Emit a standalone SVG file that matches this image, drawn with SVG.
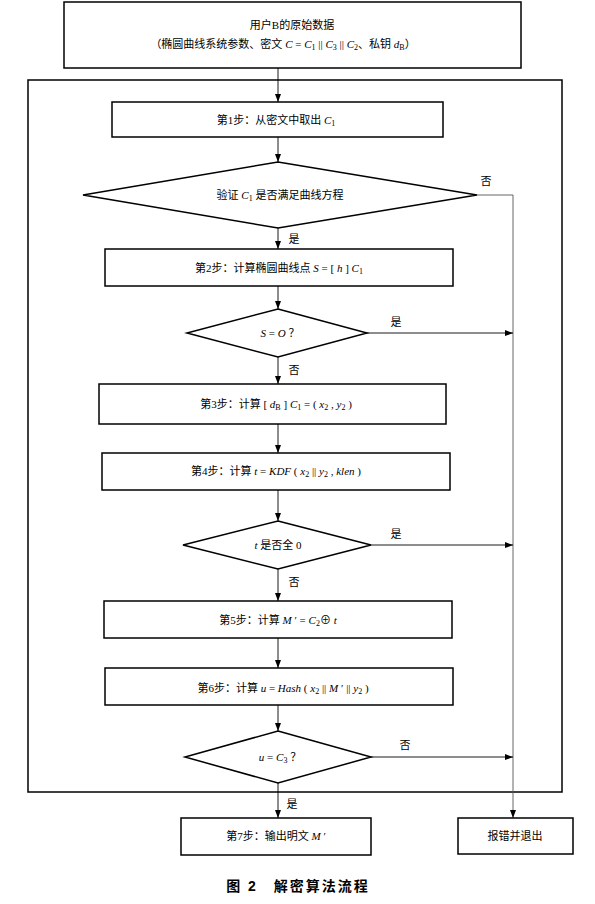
<svg xmlns="http://www.w3.org/2000/svg" width="595" height="904" viewBox="0 0 595 904">
<style>
.box{fill:#fff;stroke:#000;stroke-width:1.5}
.frame{fill:none;stroke:#000;stroke-width:1.5}
.ln{fill:none;stroke:#000;stroke-width:0.9}
.gl{fill:none;stroke:#555;stroke-width:0.9}
text{font-family:"Liberation Serif","Noto Sans CJK SC",serif;font-size:11px;fill:#000}
.c{text-anchor:middle}
.i{font-style:italic}
.s{font-size:8px}
.cap{font-family:"Liberation Sans","Noto Sans CJK SC",sans-serif;font-size:14px;font-weight:bold;letter-spacing:2px}
</style>
<defs>
<marker id="ah" markerWidth="8" markerHeight="6" refX="8" refY="3" orient="auto" markerUnits="userSpaceOnUse">
<path d="M0,0 L8,3 L0,6 Z" fill="#000"/>
</marker>
</defs>
<rect width="595" height="904" fill="#fff"/>
<rect class="frame" x="28" y="80" width="534" height="712"/>
<g id="connectors">
<line class="ln" x1="278" y1="68" x2="278" y2="102" marker-end="url(#ah)"/>
<line class="ln" x1="278" y1="137" x2="278" y2="162" marker-end="url(#ah)"/>
<line class="ln" x1="278" y1="228" x2="278" y2="249" marker-end="url(#ah)"/>
<line class="ln" x1="278" y1="286" x2="278" y2="309" marker-end="url(#ah)"/>
<line class="ln" x1="278" y1="357" x2="278" y2="384" marker-end="url(#ah)"/>
<line class="ln" x1="278" y1="424" x2="278" y2="453" marker-end="url(#ah)"/>
<line class="ln" x1="278" y1="490" x2="278" y2="521" marker-end="url(#ah)"/>
<line class="ln" x1="278" y1="569" x2="278" y2="601" marker-end="url(#ah)"/>
<line class="ln" x1="278" y1="638" x2="278" y2="668" marker-end="url(#ah)"/>
<line class="ln" x1="278" y1="705" x2="278" y2="731" marker-end="url(#ah)"/>
<line class="ln" x1="278" y1="783" x2="278" y2="818" marker-end="url(#ah)"/>
<polyline class="gl" points="477,195 513,195 513,818" marker-end="url(#ah)"/>
<line class="ln" x1="367" y1="333" x2="513" y2="333" marker-end="url(#ah)"/>
<line class="ln" x1="371" y1="545" x2="513" y2="545" marker-end="url(#ah)"/>
<line class="ln" x1="371" y1="757" x2="513" y2="757" marker-end="url(#ah)"/>
<text x="486" y="185" class="c">否</text>
<text x="294" y="243" class="c">是</text>
<text x="396" y="326" class="c">是</text>
<text x="294" y="374" class="c">否</text>
<text x="396" y="538" class="c">是</text>
<text x="294" y="586" class="c">否</text>
<text x="405" y="749" class="c">否</text>
<text x="292" y="808" class="c">是</text>
</g>
<g id="start">
<rect class="box" x="64" y="2" width="457" height="66"/>
<text x="292" y="29" class="c">用户B的原始数据</text>
<text x="283" y="48" class="c">（椭圆曲线系统参数、密文 <tspan class="i">C</tspan> = <tspan class="i">C</tspan><tspan class="s" dy="2">1</tspan><tspan dy="-2"> || </tspan><tspan class="i">C</tspan><tspan class="s" dy="2">3</tspan><tspan dy="-2"> || </tspan><tspan class="i">C</tspan><tspan class="s" dy="2">2</tspan><tspan dy="-2">、私钥 </tspan><tspan class="i">d</tspan><tspan class="s" dy="2">B</tspan><tspan dy="-2">）</tspan></text>
</g>
<g id="step1">
<rect class="box" x="112" y="102" width="331" height="35"/>
<text x="276" y="124" class="c">第1步：从密文中取出 <tspan class="i">C</tspan><tspan class="s" dy="2">1</tspan></text>
</g>
<g id="check1">
<polygon class="box" points="278,162 477,195 278,228 83,195"/>
<text x="280" y="199" class="c">验证 <tspan class="i">C</tspan><tspan class="s" dy="2">1</tspan><tspan dy="-2"> 是否满足曲线方程</tspan></text>
</g>
<g id="step2">
<rect class="box" x="105" y="249" width="348" height="37"/>
<text x="279" y="272" class="c">第2步：计算椭圆曲线点 <tspan class="i">S</tspan> = [ <tspan class="i">h</tspan> ] <tspan class="i">C</tspan><tspan class="s" dy="2">1</tspan></text>
</g>
<g id="check2">
<polygon class="box" points="278,309 367,333 278,357 187,333"/>
<text x="280" y="337" class="c"><tspan class="i">S</tspan> = <tspan class="i">O</tspan> ？</text>
</g>
<g id="step3">
<rect class="box" x="99" y="384" width="347" height="40"/>
<text x="276" y="408" class="c">第3步：计算 [ <tspan class="i">d</tspan><tspan class="s" dy="2">B</tspan><tspan dy="-2"> ] </tspan><tspan class="i">C</tspan><tspan class="s" dy="2">1</tspan><tspan dy="-2"> = ( </tspan><tspan class="i">x</tspan><tspan class="s" dy="2">2</tspan><tspan dy="-2"> , </tspan><tspan class="i">y</tspan><tspan class="s" dy="2">2</tspan><tspan dy="-2"> )</tspan></text>
</g>
<g id="step4">
<rect class="box" x="102" y="453" width="348" height="37"/>
<text x="276" y="475" class="c">第4步：计算 <tspan class="i">t</tspan> = <tspan class="i">KDF</tspan> ( <tspan class="i">x</tspan><tspan class="s" dy="2">2</tspan><tspan dy="-2"> || </tspan><tspan class="i">y</tspan><tspan class="s" dy="2">2</tspan><tspan dy="-2"> , </tspan><tspan class="i">klen</tspan> )</text>
</g>
<g id="check3">
<polygon class="box" points="278,521 371,545 278,569 183,545"/>
<text x="278" y="549" class="c"><tspan class="i">t</tspan> 是否全 0</text>
</g>
<g id="step5">
<rect class="box" x="104" y="601" width="348" height="37"/>
<text x="278" y="624" class="c">第5步：计算 <tspan class="i">M</tspan> ′ = <tspan class="i">C</tspan><tspan class="s" dy="2">2</tspan><tspan dy="-2">⊕ </tspan><tspan class="i">t</tspan></text>
</g>
<g id="step6">
<rect class="box" x="105" y="668" width="348" height="37"/>
<text x="283" y="692" class="c">第6步：计算 <tspan class="i">u</tspan> = <tspan class="i">Hash</tspan> ( <tspan class="i">x</tspan><tspan class="s" dy="2">2</tspan><tspan dy="-2"> || </tspan><tspan class="i">M</tspan> ′ || <tspan class="i">y</tspan><tspan class="s" dy="2">2</tspan><tspan dy="-2"> )</tspan></text>
</g>
<g id="check4">
<polygon class="box" points="278,731 371,757 278,783 185,757"/>
<text x="280" y="761" class="c"><tspan class="i">u</tspan> = <tspan class="i">C</tspan><tspan class="s" dy="2">3</tspan><tspan dy="-2"> ？</tspan></text>
</g>
<g id="step7">
<rect class="box" x="181" y="818" width="190" height="37"/>
<text x="276" y="840" class="c">第7步：输出明文 <tspan class="i">M</tspan> ′</text>
</g>
<g id="error">
<rect class="box" x="458" y="818" width="115" height="36"/>
<text x="515" y="840" class="c">报错并退出</text>
</g>
<text x="298" y="891" class="c cap">图 2　解密算法流程</text>
</svg>
